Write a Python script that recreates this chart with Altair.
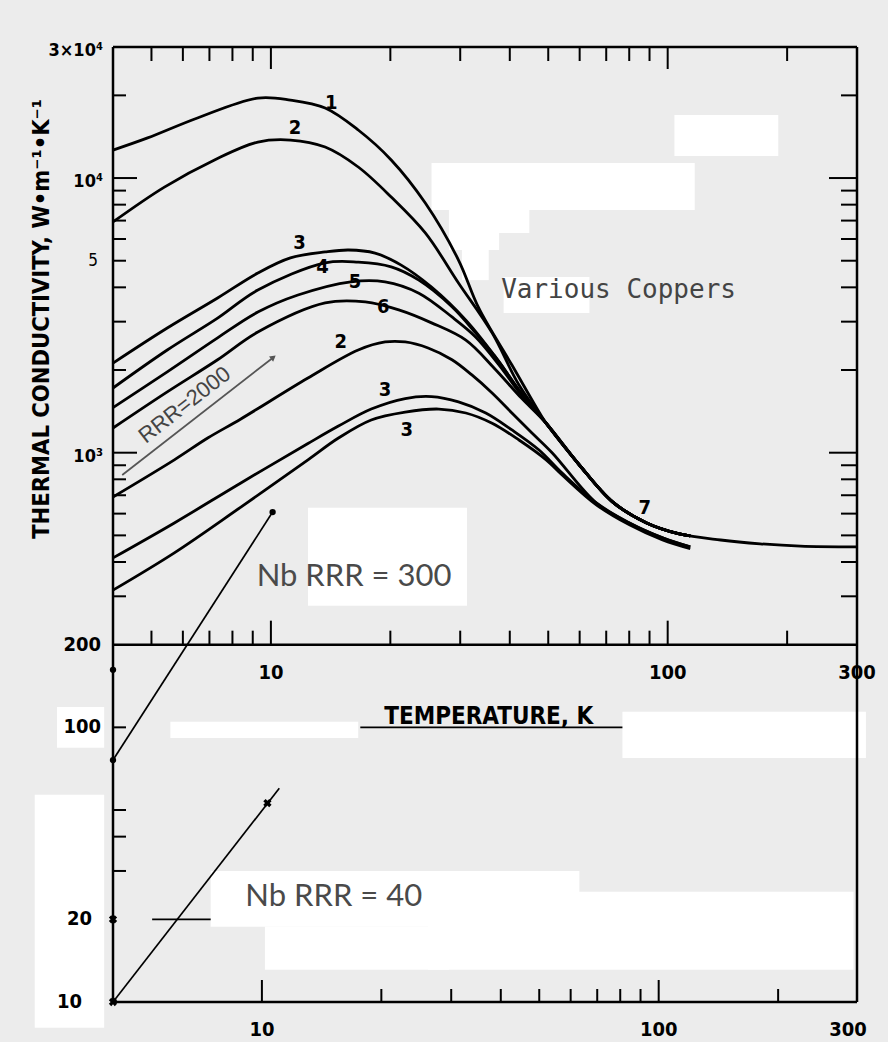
import altair as alt
import pandas as pd

# ---------------- copper curves: temperature T (K), conductivity K (W/m/K) ----------------
c1_T = [4, 4.89, 6.53, 9.27, 11.2, 13.7, 16.6, 20.1, 24.5, 29.7, 33.4, 40.5, 47.4]
c1_K = [12640, 14000, 16550, 19550, 19230, 17990, 14960, 11640, 8110, 5030, 3365, 2085, 1406]
c2_T = [4, 5.39, 7.21, 9.27, 11.2, 13.7, 16.6, 20.1, 24.5, 29.7, 36.1, 42.2]
c2_K = [6920, 9270, 11640, 13520, 13750, 12970, 10970, 8530, 6310, 4150, 2730, 1764]
c3_T = [4, 5.48, 7.34, 9.27, 11.2, 13.7, 15.7, 18.3, 21.3, 25.4, 31.0, 36.5, 42.2]
c3_K = [2120, 2845, 3660, 4510, 5120, 5380, 5470, 5330, 4820, 4010, 3040, 2270, 1690]
c4_T = [4, 5.48, 7.34, 9.27, 13.7, 16.6, 20.1, 23.6, 28.6, 32.8, 37.6, 42.2]
c4_K = [1720, 2365, 3090, 3910, 4910, 4940, 4750, 4250, 3400, 2730, 2140, 1690]
c5_T = [4, 5.48, 7.34, 9.27, 11.7, 15.9, 19.4, 23.6, 28.6, 32.8, 37.6, 42.8]
c5_K = [1460, 1970, 2620, 3250, 3750, 4190, 4190, 3810, 3120, 2640, 2085, 1620]
c6_T = [4, 5.48, 7.34, 9.27, 13.7, 17.3, 21.0, 25.4, 31.0, 36.5, 42.8]
c6_K = [1230, 1665, 2180, 2750, 3510, 3540, 3310, 2970, 2570, 2035, 1580]
# common high-temperature tail of curves 1-6
up_T = [49.4, 59.9, 72.6, 88.5, 107, 114]
up_K = [1280, 902, 662, 555, 506, 498]
# curve 7 (continues to room temperature)
c7_T = [49.4, 59.9, 72.6, 88.5, 107, 136, 171, 216, 300]
c7_K = [1280, 902, 662, 555, 506, 481, 466, 457, 454]
# lower group
c2b_T = [4, 5.71, 6.93, 8.40, 12.4, 16.6, 19.4, 21.8, 24.9, 28.6, 32.1, 36.1, 40.5, 45.5, 51.2]
c2b_K = [690, 942, 1131, 1327, 1871, 2365, 2530, 2530, 2406, 2180, 1919, 1650, 1395, 1180, 998]
c3a_T = [4, 5.71, 8.40, 12.4, 14.8, 17.9, 21.8, 25.4, 29.7, 34.8, 40.5, 47.4]
c3a_K = [414, 555, 776, 1080, 1250, 1442, 1575, 1600, 1531, 1395, 1210, 1023]
lo_T = [44.8, 54.2, 66.1, 80.1, 97.1, 114]
lo_K = [1080, 843, 656, 555, 490, 454]
c3b_T = [4, 5.71, 8.40, 12.4, 14.8, 17.9, 21.8, 26.5, 31.0, 36.1, 42.2, 49.4,
         54.2, 66.1, 80.1, 97.1, 114]
c3b_K = [316, 432, 634, 942, 1131, 1316, 1406, 1442, 1395, 1280, 1112, 942,
         830, 646, 546, 481, 447]

# curve number labels
lab_text = ["1", "2", "3", "4", "5", "6", "2", "3", "3", "7"]
lab_T = [14.2, 11.5, 11.8, 13.5, 16.3, 19.2, 15.0, 19.4, 22.0, 87.5]
lab_K = [18750, 15210, 5800, 4750, 4190, 3400, 2530, 1690, 1210, 630]

# straight annotation segments (Nb lines, RRR arrow, underline, dash)
seg_name = ["nb300", "nb40", "rrr", "underline", "dash"]
seg_T1 = [4, 4, 4.22, 16.8, 5.02]
seg_K1 = [76, 10, 830, 100, 20]
seg_T2 = [10.1, 10.5, 10.1, 76.9, 7.05]
seg_K2 = [608, 60, 2213, 100, 20]

nb_dot_T = [4, 4, 10.1]
nb_dot_K = [76, 162, 608]
cross_T = [4, 4, 9.8]
cross_K = [10, 20, 53]

# axis ticks
minor_T = [5, 6, 7, 8, 9, 20, 30, 40, 50, 60, 70, 80, 90, 200]
major_T = [10, 100]
bottom_minor_T = [20, 30, 40, 50, 60, 70, 80, 90, 200]
left_minor_K = [20000, 9000, 8000, 7000, 6000, 5000, 4000, 3000, 2000,
                900, 800, 700, 600, 500, 400, 300, 100, 50, 40, 30]
right_minor_K = [20000, 9000, 8000, 7000, 6000, 5000, 4000, 3000, 2000,
                 900, 800, 700, 600, 500, 400, 300]
major_K = [10000, 1000]

# axis tick labels
x_label_values = [10, 100, 300]
x_label_text = ["10", "100", "300"]
y_small_values = [30000, 10000, 1000]
y_small_text = ["3×10⁴", "10⁴", "10³"]
y_big_values = [200, 100]
y_big_text = ["200", "100"]

# white paper patches of the scan (T1, T2, K1, K2)
box_T1 = [104, 25.4, 28.1, 28.1, 30.3, 38.6, 12.4, 5.58, 76.9, 24.9, 9.66, 7.05, 2.54, 2.89]
box_T2 = [190, 117, 44.8, 37.6, 35.4, 63.5, 31.2, 16.6, 316, 294, 28.1, 59.9, 3.80, 3.80]
box_K1 = [12030, 7650, 6310, 5470, 4250, 3225, 277, 91.5, 77.4, 13.1, 13.1, 18.8, 8.05, 84.2]
box_K2 = [16960, 11340, 7650, 6310, 5470, 4360, 630, 104.7, 114, 25.2, 18.8, 30, 56.8, 118.7]

# ---------------- build ----------------
COND = "DejaVu Sans Condensed, Liberation Sans Narrow, Liberation Sans, sans-serif"
XS = alt.Scale(type="log", domain=[4, 300], nice=False)
YS = alt.Scale(type="log", domain=[10, 30000], nice=False)


def X(f="T"):
    return alt.X(f"{f}:Q", scale=XS, axis=None)


def Y(f="K"):
    return alt.Y(f"{f}:Q", scale=YS, axis=None)


rows = []
curves = [
    ("1", c1_T + up_T, c1_K + up_K),
    ("2", c2_T + up_T, c2_K + up_K),
    ("3", c3_T + up_T, c3_K + up_K),
    ("4", c4_T + up_T, c4_K + up_K),
    ("5", c5_T + up_T, c5_K + up_K),
    ("6", c6_T + up_T, c6_K + up_K),
    ("7", c7_T, c7_K),
    ("2b", c2b_T + lo_T[2:], c2b_K + lo_K[2:]),
    ("3a", c3a_T + lo_T[1:], c3a_K + lo_K[1:]),
    ("3b", c3b_T, c3b_K),
]
for name, ts, ks in curves:
    for i, (t, k) in enumerate(zip(ts, ks)):
        rows.append({"curve": name, "i": i, "T": t, "K": k})
curve_df = pd.DataFrame(rows)

boxes_df = pd.DataFrame({"T1": box_T1, "T2": box_T2, "K1": box_K1, "K2": box_K2})
boxes = alt.Chart(boxes_df).mark_rect(color="white").encode(
    x=X("T1"), x2="T2:Q", y=Y("K1"), y2="K2:Q")

hframe = alt.Chart(pd.DataFrame({"K": [30000, 200, 10], "T1": [4, 4, 4], "T2": [300, 300, 300]})).mark_rule(
    color="black", strokeWidth=2.5).encode(x=X("T1"), x2="T2:Q", y=Y("K"))
vframe = alt.Chart(pd.DataFrame({"T": [4, 300], "K1": [10, 10], "K2": [30000, 30000]})).mark_rule(
    color="black", strokeWidth=2.5).encode(x=X("T"), y=Y("K1"), y2="K2:Q")


def ticks(ts, ks, orient, size, xoff=0, yoff=0):
    df = pd.DataFrame({"T": ts, "K": ks})
    return alt.Chart(df).mark_tick(orient=orient, size=size, thickness=2, color="black",
                                   xOffset=xoff, yOffset=yoff, opacity=1).encode(x=X(), y=Y())


tick_layers = [
    ticks(minor_T, [30000] * len(minor_T), "vertical", 14, yoff=7),
    ticks(major_T, [30000] * len(major_T), "vertical", 22, yoff=11),
    ticks(minor_T, [200] * len(minor_T), "vertical", 14, yoff=-7),
    ticks(major_T, [200] * len(major_T), "vertical", 24, yoff=-12),
    ticks(bottom_minor_T, [10] * len(bottom_minor_T), "vertical", 13, xoff=-9, yoff=-6.5),
    ticks(major_T, [10] * len(major_T), "vertical", 22, xoff=-9, yoff=-11),
    ticks([4] * len(left_minor_K), left_minor_K, "horizontal", 13, xoff=6.5),
    ticks([4] * len(major_K), major_K, "horizontal", 24, xoff=12),
    ticks([300] * len(right_minor_K), right_minor_K, "horizontal", 16, xoff=-8),
    ticks([300] * len(major_K), major_K, "horizontal", 28, xoff=-14),
]

curves_layer = alt.Chart(curve_df).mark_line(
    color="black", strokeWidth=2.8, interpolate="catmull-rom").encode(
    x=X(), y=Y(), detail="curve:N", order="i:Q")

seg_df = pd.DataFrame({"name": seg_name, "T1": seg_T1, "K1": seg_K1, "T2": seg_T2, "K2": seg_K2})
segs_black = alt.Chart(seg_df[seg_df["name"] != "rrr"]).mark_rule(
    color="black", strokeWidth=1.7).encode(x=X("T1"), y=Y("K1"), x2="T2:Q", y2="K2:Q")
segs_grey = alt.Chart(seg_df[seg_df["name"] == "rrr"]).mark_rule(
    color="#555555", strokeWidth=1.8).encode(x=X("T1"), y=Y("K1"), x2="T2:Q", y2="K2:Q")

arrow = alt.Chart(pd.DataFrame({"T": [seg_T2[2]], "K": [seg_K2[2]]})).mark_point(
    shape="triangle", filled=True, angle=52, size=45, color="#555555", opacity=1).encode(x=X(), y=Y())
dots = alt.Chart(pd.DataFrame({"T": nb_dot_T, "K": nb_dot_K})).mark_circle(
    size=40, color="black", opacity=1).encode(x=X(), y=Y())
crosses = alt.Chart(pd.DataFrame({"T": cross_T, "K": cross_K})).mark_point(
    shape="cross", filled=True, angle=45, size=70, color="black", opacity=1).encode(x=X(), y=Y())


def text_layer(texts, ts, ks, size, font=COND, weight="bold", color="black",
               align="center", baseline="middle", dx=0, dy=0, angle=0):
    df = pd.DataFrame({"t": texts, "T": ts, "K": ks})
    kw = dict(font=font, fontWeight=weight, fontSize=size, color=color,
              align=align, baseline=baseline, dx=dx, dy=dy)
    if angle:
        kw["angle"] = angle
    return alt.Chart(df).mark_text(**kw).encode(x=X(), y=Y(), text="t:N")


texts = [
    # curve numbers
    text_layer(lab_text, lab_T, lab_K, 20),
    # x tick labels on the K = 200 line and on the bottom line
    text_layer(x_label_text, x_label_values, [200] * 3, 20, dy=28),
    text_layer(x_label_text, x_label_values, [10] * 3, 20, dy=28, dx=-9),
    # y tick labels
    text_layer(y_small_text, [4] * 3, y_small_values, 18, align="right", dx=-10, dy=4),
    text_layer(["5"], [4], [5000], 17, align="right", dx=-15, weight="normal"),
    text_layer(y_big_text, [4] * 2, y_big_values, 20, align="right", dx=-12),
    text_layer(["20"], [4], [20], 20, align="right", dx=-21),
    text_layer(["10"], [4], [10], 20, align="right", dx=-31),
    # axis titles
    text_layer(["TEMPERATURE, K"], [35.4], [100], 24, baseline="alphabetic", dy=-3),
    text_layer(["THERMAL CONDUCTIVITY, W•m⁻¹•K⁻¹"], [2.65], [3070], 23.5, angle=270),
    # annotations
    text_layer(["RRR=2000"], [6.06], [1493], 22, font="Liberation Sans, sans-serif",
               weight="normal", color="#444444", angle=322),
    text_layer(["Various Coppers"], [75.2], [3910], 26, font="DejaVu Sans Mono, monospace",
               weight="normal", color="#444444"),
    text_layer(["Nb RRR = 300", "Nb RRR = 40"], [16.2, 14.4], [353, 24.1], 31,
               font="Lato, Open Sans, sans-serif", weight="normal", color="#4a4a4a"),
]

chart = alt.layer(
    boxes, hframe, vframe, *tick_layers, curves_layer, segs_black, segs_grey,
    arrow, dots, crosses, *texts
).properties(
    width=744, height=955,
    padding={"left": 113, "top": 47, "right": 31, "bottom": 40},
    autosize=alt.AutoSizeParams(type="none"),
).configure(background="#ececec").configure_view(stroke=None)

chart.save("out.html", embed_options={"renderer": "svg", "actions": False})
